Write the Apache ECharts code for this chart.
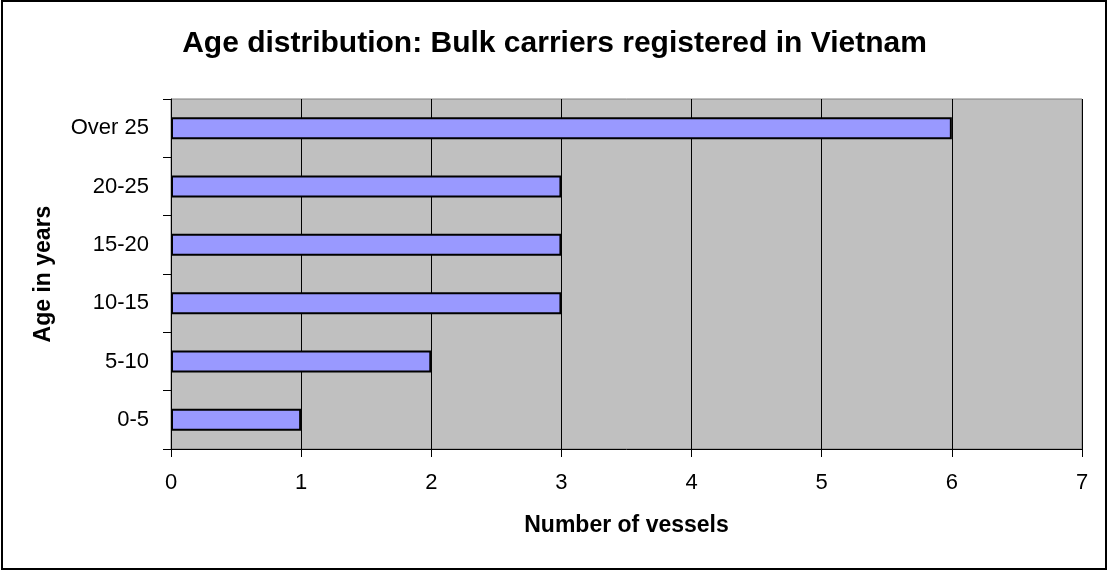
<!DOCTYPE html>
<html>
<head>
<meta charset="utf-8">
<script src="https://cdn.jsdelivr.net/npm/echarts@6/dist/echarts.min.js"></script>
<style>
html,body{margin:0;padding:0;background:#fff;}
#chart{width:1109px;height:571px;}
</style>
</head>
<body>
<div id="chart"></div>
<script>
var categories = ['0-5', '5-10', '10-15', '15-20', '20-25', 'Over 25'];
var vessels = [1, 2, 3, 3, 3, 6];
var xTicks = [0, 1, 2, 3, 4, 5, 6, 7];

var FONT = '"Liberation Sans", Arial, sans-serif';
var chart = echarts.init(document.getElementById('chart'), null, {renderer: 'canvas'});
chart.setOption({
  animation: false,
  backgroundColor: '#ffffff',
  title: {
    text: 'Age distribution: Bulk carriers registered in Vietnam',
    left: 'center',
    top: 24,
    textStyle: {fontFamily: FONT, fontSize: 30, fontWeight: 'bold', color: '#000'}
  },
  graphic: [{
    type: 'rect',
    shape: {x: 2, y: 1, width: 1104, height: 568},
    style: {fill: 'none', stroke: '#000', lineWidth: 2},
    silent: true, z: 100
  }],
  grid: {
    left: 171, top: 99, width: 911, height: 350,
    show: true, backgroundColor: '#C0C0C0', borderColor: '#808080', borderWidth: 1
  },
  xAxis: {
    type: 'value',
    min: xTicks[0], max: xTicks[xTicks.length - 1], interval: 1,
    name: 'Number of vessels',
    nameLocation: 'middle',
    nameGap: 65,
    nameTextStyle: {fontFamily: FONT, fontSize: 23, fontWeight: 'bold', color: '#000', verticalAlign: 'top'},
    axisLine: {show: true, lineStyle: {color: '#000', width: 1}},
    axisTick: {show: true, length: 8, lineStyle: {color: '#000'}},
    axisLabel: {fontFamily: FONT, fontSize: 22, color: '#000', margin: 23},
    splitLine: {show: true, lineStyle: {color: '#000', width: 1}}
  },
  yAxis: {
    type: 'category',
    data: categories,
    name: 'Age in years',
    nameLocation: 'middle',
    nameRotate: 90,
    nameGap: 116,
    nameTextStyle: {fontFamily: FONT, fontSize: 23, fontWeight: 'bold', color: '#000'},
    axisLine: {show: true, lineStyle: {color: '#000', width: 1}},
    axisTick: {show: true, length: 8, alignWithLabel: false, lineStyle: {color: '#000'}},
    axisLabel: {fontFamily: FONT, fontSize: 22, color: '#000', margin: 22},
    splitLine: {show: false}
  },
  series: [{
    type: 'bar',
    data: vessels,
    barWidth: 22,
    itemStyle: {color: '#9999FF', borderColor: '#000', borderWidth: 2}
  }]
});
</script>
</body>
</html>
